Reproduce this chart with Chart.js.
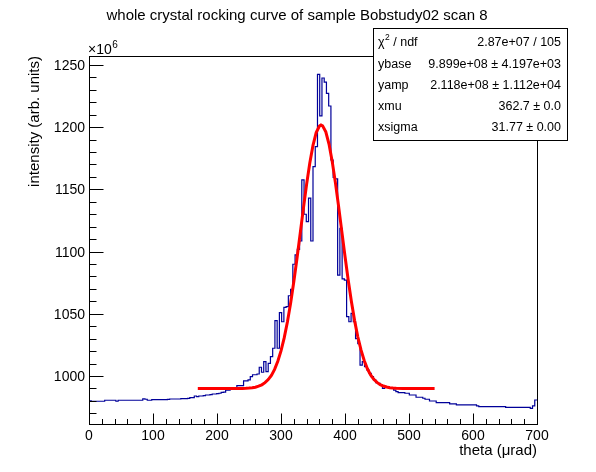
<!DOCTYPE html>
<html>
<head>
<meta charset="utf-8">
<script src="https://cdn.jsdelivr.net/npm/chart.js@4.4.1/dist/chart.umd.min.js"></script>
<style>
  html, body { margin: 0; padding: 0; background: #ffffff; }
  #wrap { width: 596px; height: 472px; position: relative; }
</style>
</head>
<body>
<div id="wrap"><canvas id="c"></canvas></div>
<script>
// ---------------- data ----------------
const chartTitle = "whole crystal rocking curve of sample Bobstudy02 scan 8";
const xTitle = "theta (\u03bcrad)";
const yTitle = "intensity (arb. units)";
const yExponent = "6";
const xRange = [0, 700];
const yRange = [961.4, 1257.2];
const binWidth = 3.5;

// histogram contents per bin (units of 1e6)
const binCounts = [
  980.0, 979.7, 979.7, 979.7, 979.7, 979.7, 979.7, 980.5, 980.5, 980.5,
  980.5, 980.5, 979.7, 980.5, 980.5, 980.5, 980.5, 980.5, 980.5, 980.5,
  980.5, 980.5, 980.5, 980.5, 981.6, 981.3, 980.5, 980.5, 981.0, 981.0,
  981.0, 981.0, 981.0, 981.0, 981.0, 981.2, 981.5, 981.5, 981.5, 981.5,
  981.5, 981.8, 981.8, 981.8, 982.0, 982.6, 982.6, 983.9, 983.4, 983.9,
  983.9, 984.2, 984.7, 984.7, 985.0, 985.5, 985.5, 985.8, 986.1, 986.9,
  987.0, 988.7, 988.7, 989.8, 989.8, 990.0, 992.2, 992.2, 992.2, 996.0,
  996.0, 996.8, 999.4, 1001.0, 1001.0, 1001.6, 1007.0, 1003.0, 1011.5, 1003.5,
  1010.2, 1015.5, 1022.3, 1044.5, 1022.3, 1050.9, 1043.6, 1055.2, 1055.7, 1064.5,
  1069.7, 1089.8, 1097.3, 1101.8, 1108.5, 1157.6, 1130.0, 1124.0, 1143.0, 1108.5,
  1168.3, 1184.3, 1242.5, 1209.0, 1239.5, 1236.2, 1227.2, 1217.0, 1173.6, 1159.7,
  1158.4, 1081.0, 1118.7, 1078.0, 1077.0, 1047.7, 1043.6, 1050.4, 1043.6, 1030.0,
  1026.0, 1008.8, 1011.5, 1007.5, 1004.8, 1002.2, 999.4, 996.8, 994.6, 994.1,
  992.8, 990.1, 991.4, 991.4, 990.1, 990.1, 988.7, 987.5, 986.6, 986.6,
  986.6, 986.1, 986.1, 984.7, 984.7, 984.7, 982.9, 982.9, 982.9, 982.1,
  981.3, 981.3, 979.9, 979.9, 979.9, 978.6, 978.6, 978.6, 978.6, 978.6,
  978.6, 977.5, 977.5, 977.5, 976.7, 976.7, 976.7, 976.7, 976.7, 976.7,
  976.7, 976.7, 976.7, 975.9, 975.3, 975.3, 975.3, 975.3, 975.3, 975.3,
  975.3, 975.3, 975.3, 975.3, 975.3, 975.3, 974.8, 974.8, 974.8, 974.8,
  974.8, 974.8, 974.8, 974.8, 974.8, 974.8, 974.8, 974.0, 975.9, 980.7
];

const fitTheta = [170, 180, 190, 200, 210, 220, 230, 240, 245, 250,
  255, 260, 265, 270, 275, 280, 285, 290, 295, 300,
  305, 310, 315, 320, 325, 330, 335, 340, 345, 350,
  355, 360, 362.5, 365, 370, 375, 380, 385, 390, 395,
  400, 405, 410, 415, 420, 425, 430, 435, 440, 445,
  450, 455, 460, 465, 470, 475, 480, 490, 500, 510,
  520, 530, 540];
const fitValues = [989.9, 989.9, 989.9, 989.9, 989.9, 989.9, 989.9, 990.0, 990.1, 990.3,
  990.6, 991.0, 991.8, 992.9, 994.6, 997.1, 1000.5, 1005.3, 1011.8, 1020.1,
  1030.6, 1043.4, 1058.5, 1075.7, 1094.6, 1114.6, 1134.7, 1154.0, 1171.2, 1185.4,
  1195.6, 1200.9, 1201.7, 1201.1, 1196.2, 1186.4, 1172.5, 1155.4, 1136.3, 1116.2,
  1096.2, 1077.2, 1059.8, 1044.5, 1031.5, 1020.9, 1012.4, 1005.8, 1000.9, 997.3,
  994.8, 993.0, 991.9, 991.1, 990.6, 990.3, 990.1, 990.0, 989.9, 989.9,
  989.9, 989.9, 989.9];

const xMajorTicks = [0, 100, 200, 300, 400, 500, 600, 700];
const xMinorTicks = [20, 40, 60, 80, 120, 140, 160, 180, 220, 240, 260, 280, 320, 340, 360, 380,
  420, 440, 460, 480, 520, 540, 560, 580, 620, 640, 660, 680];
const yMajorTicks = [1000, 1050, 1100, 1150, 1200, 1250];
const yMinorTicks = [970, 980, 990, 1010, 1020, 1030, 1040, 1060, 1070, 1080, 1090,
  1110, 1120, 1130, 1140, 1160, 1170, 1180, 1190, 1210, 1220, 1230, 1240];

const statsLabels = ["\u03c7", "ybase", "yamp", "xmu", "xsigma"];
const statsValues = ["2.87e+07 / 105", "9.899e+08 \u00b1 4.197e+03", "2.118e+08 \u00b1 1.112e+04",
  "362.7 \u00b1 0.0", "31.77 \u00b1 0.00"];

// ---------------- chart ----------------
const FONT = '"Liberation Sans", Arial, Helvetica, sans-serif';

const histPoints = binCounts.map((v, i) => ({ x: xRange[0] + i * binWidth, y: v }));
histPoints.push({ x: xRange[0] + binCounts.length * binWidth, y: binCounts[binCounts.length - 1] });
const fitPoints = fitTheta.map((t, i) => ({ x: t, y: fitValues[i] }));

const rootStyle = {
  id: 'rootStyle',
  beforeDraw(chart) {
    const c = chart.ctx;
    c.save();
    c.fillStyle = '#ffffff';
    c.fillRect(0, 0, chart.width, chart.height);
    c.restore();
  },
  afterDatasetsDraw(chart) {
    const c = chart.ctx;
    const a = chart.chartArea;
    const xs = chart.scales.x, ys = chart.scales.y;
    c.save();
    c.strokeStyle = '#000000';
    c.fillStyle = '#000000';
    c.lineWidth = 1;
    // frame
    const L = Math.round(a.left) + 0.5, R = Math.round(a.right) + 0.5;
    const T = Math.round(a.top) + 0.5, B = Math.round(a.bottom) + 0.5;
    c.strokeRect(L, T, R - L, B - T);
    // x ticks (inward)
    c.beginPath();
    xMajorTicks.forEach(v => {
      const px = Math.round(xs.getPixelForValue(v)) + 0.5;
      c.moveTo(px, B); c.lineTo(px, B - 11);
    });
    xMinorTicks.forEach(v => {
      const px = Math.round(xs.getPixelForValue(v)) + 0.5;
      c.moveTo(px, B); c.lineTo(px, B - 5.5);
    });
    // y ticks (inward)
    yMajorTicks.forEach(v => {
      const py = Math.round(ys.getPixelForValue(v)) + 0.5;
      c.moveTo(L, py); c.lineTo(L + 14, py);
    });
    yMinorTicks.forEach(v => {
      const py = Math.round(ys.getPixelForValue(v)) + 0.5;
      c.moveTo(L, py); c.lineTo(L + 7, py);
    });
    c.stroke();

    // tick labels
    c.font = '14px ' + FONT;
    c.textAlign = 'center';
    c.textBaseline = 'alphabetic';
    xMajorTicks.forEach(v => {
      c.fillText(String(v), xs.getPixelForValue(v), 440);
    });
    c.textAlign = 'right';
    yMajorTicks.forEach(v => {
      c.fillText(String(v), a.left - 4, ys.getPixelForValue(v) + 5);
    });

    // exponent label
    c.textAlign = 'left';
    c.font = '14px ' + FONT;
    c.fillText('\u00d710', a.left - 1, 54);
    const w10 = c.measureText('\u00d710').width;
    c.font = '10px ' + FONT;
    c.fillText(yExponent, a.left - 1 + w10 + 0.5, 48);

    // axis titles
    c.font = '15px ' + FONT;
    c.textAlign = 'right';
    c.fillText(xTitle, a.right, 455);
    c.save();
    c.translate(39, a.top);
    c.rotate(-Math.PI / 2);
    c.textAlign = 'right';
    c.fillText(yTitle, 0, 0);
    c.restore();

    // main title
    c.textAlign = 'center';
    c.font = '15px ' + FONT;
    c.fillText(chartTitle, 297, 20);

    // stats box
    const bx = 373, by = 28, bw = 194, bh = 112;
    c.fillStyle = '#ffffff';
    c.fillRect(bx, by, bw, bh);
    c.strokeStyle = '#000000';
    c.strokeRect(bx + 0.5, by + 0.5, bw, bh);
    c.fillStyle = '#000000';
    const rowY = [43, 64.5, 86, 107, 128];
    c.textBaseline = 'middle';
    statsLabels.forEach((lab, i) => {
      c.textAlign = 'left';
      c.font = '12.5px ' + FONT;
      if (i === 0) {
        c.fillText(lab, bx + 5, rowY[i]);
        let w = c.measureText(lab).width;
        c.font = '8.5px ' + FONT;
        c.fillText('2', bx + 5 + w + 0.5, rowY[i] - 5);
        const w2 = c.measureText('2').width;
        c.font = '12.5px ' + FONT;
        c.fillText(' / ndf', bx + 5 + w + 0.5 + w2, rowY[i]);
      } else {
        c.fillText(lab, bx + 5, rowY[i]);
      }
      c.textAlign = 'right';
      c.fillText(statsValues[i], bx + bw - 6, rowY[i]);
    });
    c.restore();
  }
};

new Chart(document.getElementById('c'), {
  type: 'line',
  data: {
    datasets: [
      {
        label: 'fit',
        data: fitPoints,
        borderColor: '#ff0000',
        borderWidth: 3,
        pointRadius: 0,
        tension: 0,
        fill: false,
        order: 0
      },
      {
        label: 'histogram',
        data: histPoints,
        borderColor: '#000099',
        borderWidth: 1.2,
        pointRadius: 0,
        stepped: 'before',
        fill: false,
        order: 1
      }
    ]
  },
  options: {
    responsive: true,
    maintainAspectRatio: false,
    animation: false,
    events: [],
    layout: { padding: { left: 89, right: 59, top: 56, bottom: 48 } },
    plugins: {
      legend: { display: false },
      tooltip: { enabled: false },
      title: { display: false }
    },
    scales: {
      x: { type: 'linear', min: xRange[0], max: xRange[1], display: false },
      y: { type: 'linear', min: yRange[0], max: yRange[1], display: false }
    }
  },
  plugins: [rootStyle]
});
</script>
</body>
</html>
